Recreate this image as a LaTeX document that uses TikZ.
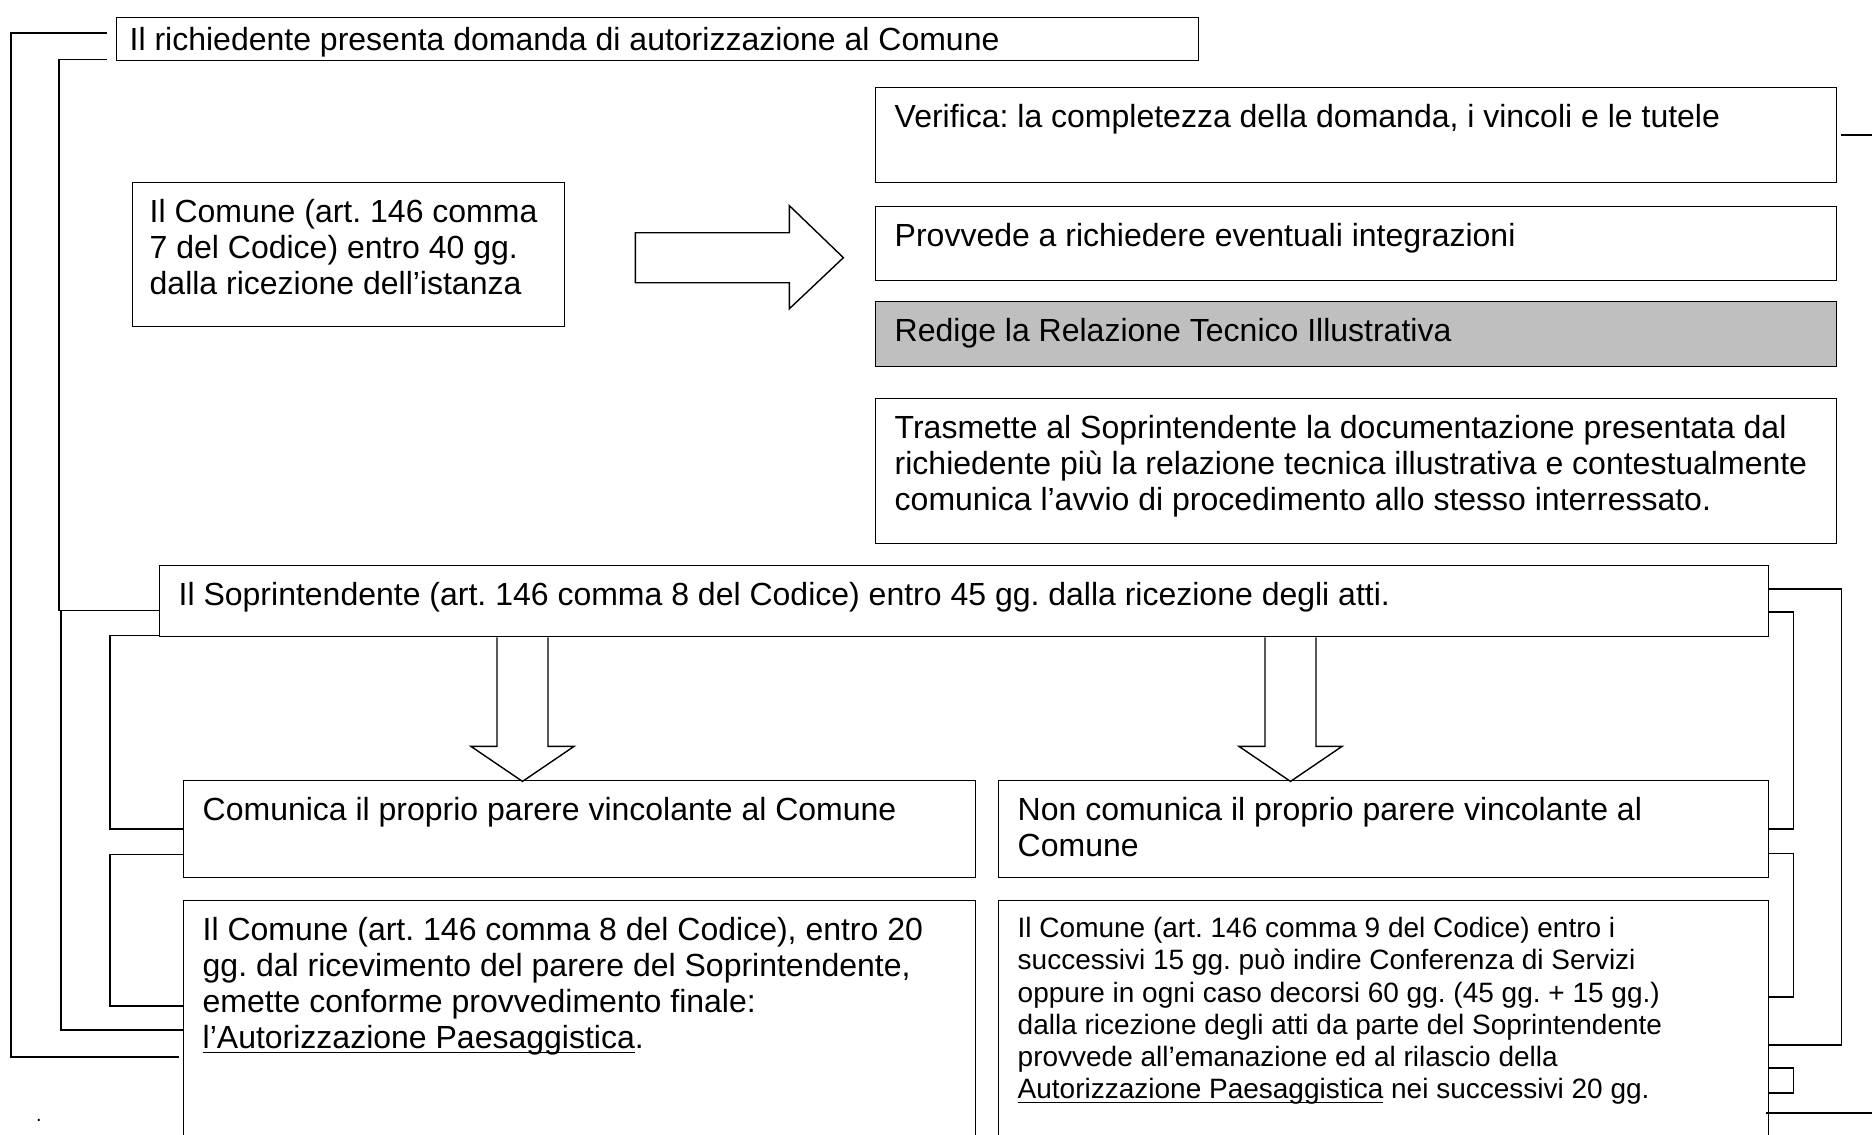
\documentclass[tikz,border=0pt]{standalone}
\usepackage{fontspec}
\setmainfont{Liberation Sans}
\usetikzlibrary{calc}

\newlength\padL
\setlength\padL{19pt}
% box content: [baseline of first line]{width}{height}{text}
\newcommand{\boxtext}[4][40pt]{\parbox[t][#3][t]{#2}{\raggedright\frenchspacing\leftskip=\padL\rightskip=-60pt plus 1fil\rule{0pt}{#1}#4}}
\newcommand{\sottolinea}[1]{\leavevmode\setbox0\hbox{#1}\rlap{\rule[-4.5pt]{\wd0}{1.6pt}}\box0\relax}

\begin{document}
\begin{tikzpicture}[x=1pt,y=-1pt,
  box/.style={draw, line width=1.4pt, anchor=north west, inner sep=0pt},
  link/.style={draw, line width=1.8pt},
  blockarr/.style={draw, line width=1.4pt, fill=white, line join=miter},
  font=\fontsize{32}{36}\selectfont]

\useasboundingbox (0,0) rectangle (1872,1135);
\begin{scope}
\clip (0,0) rectangle (1872,1135);

\node[box] (req) at (116,17) {\setlength\padL{13pt}\boxtext[33pt]{1082pt}{43pt}{Il richiedente presenta domanda di autorizzazione al Comune}};
\node[box] (comune) at (132,182) {\setlength\padL{17pt}\boxtext{432pt}{144pt}{Il Comune (art. 146 comma\\7 del Codice) entro 40 gg.\\dalla ricezione dell’istanza}};

\node[box] (verif) at (875,87) {\boxtext{961pt}{95pt}{Verifica: la completezza della domanda, i vincoli e le tutele}};
\node[box] (provv) at (875,206) {\boxtext{961pt}{74pt}{Provvede a richiedere eventuali integrazioni}};
\node[box, fill=black!25] (redige) at (875,301) {\boxtext{961pt}{65pt}{Redige la Relazione Tecnico Illustrativa}};
\node[box] (trasm) at (875,398) {\boxtext{961pt}{145pt}{Trasmette al Soprintendente la documentazione presentata dal\\richiedente più la relazione tecnica illustrativa e contestualmente\\comunica l’avvio di procedimento allo stesso interressato.}};

\node[box] (sopr) at (159,565) {\boxtext{1609pt}{71pt}{Il Soprintendente (art. 146 comma 8 del Codice) entro 45 gg. dalla ricezione degli atti.}};

\node[box] (comun) at (183,780) {\boxtext{792pt}{97pt}{Comunica il proprio parere vincolante al Comune}};
\node[box] (noncom) at (998,780) {\boxtext{770pt}{97pt}{Non comunica il proprio parere vincolante al\\Comune}};

\node[box] (esito) at (183,900) {\boxtext{792pt}{260pt}{Il Comune (art. 146 comma 8 del Codice), entro 20\\gg. dal ricevimento del parere del Soprintendente,\\emette conforme provvedimento finale:\\\sottolinea{l’Autorizzazione Paesaggistica}.}};
\node[box] (silenzio) at (998,900) {\fontsize{28}{32.2}\selectfont\boxtext[37pt]{770pt}{260pt}{Il Comune (art. 146 comma 9 del Codice) entro i\\successivi 15 gg. può indire Conferenza di Servizi\\oppure in ogni caso decorsi 60 gg. (45 gg. + 15 gg.)\\dalla ricezione degli atti da parte del Soprintendente\\provvede all’emanazione ed al rilascio della\\\sottolinea{Autorizzazione Paesaggistica} nei successivi 20 gg.}};

\node[inner sep=0pt, font=\fontsize{20}{20}\selectfont] (punto) at (39,1120) {.};

% block arrows
\draw[blockarr] ($(comune.east)+(70,-22)$) -- ++(154,0) -- ++(0,-27) -- ++(54,52) -- ++(-54,51) -- ++(0,-26) -- ++(-154,0) -- cycle;
\draw[blockarr] ($(sopr.south west)+(338,0)$) -- ++(0,109) -- ++(-26,0) -- ++(51.5,35) -- ++(51.5,-35) -- ++(-26,0) -- ++(0,-109);
\draw[blockarr] ($(sopr.south west)+(1106,0)$) -- ++(0,109) -- ++(-26,0) -- ++(51.5,35) -- ++(51.5,-35) -- ++(-26,0) -- ++(0,-109);

% left brackets
\draw[link] ($(req.north west)+(-9,16)$) -- ++(-96,0) |- ($(esito.north west)+(-4,157)$);
\draw[link] ($(req.south west)+(-9,-2)$) -- ++(-48,0) |- ($(sopr.south west)+(0,-27)$);
\draw[link] ($(sopr.south west)+(0,-27)$) -- ++(-98,0) |- ($(esito.north west)+(0,130)$);
\draw[link] ($(sopr.south west)+(0,-2)$) -- ++(-49,0) |- (comun.west);
\draw[link] ($(comun.south west)+(0,-24)$) -- ++(-73,0) |- ($(esito.north west)+(0,106)$);

% right brackets
\draw[link] ($(sopr.north east)+(0,24)$) -- ++(72,0) |- ($(silenzio.north east)+(0,145)$);
\draw[link] ($(sopr.north east)+(0,47)$) -- ++(24,0) |- (noncom.east);
\draw[link] ($(noncom.south east)+(0,-25)$) -- ++(24,0) |- ($(silenzio.north east)+(0,97)$);
\draw[link] ($(silenzio.north east)+(0,168)$) -- ++(24,0) |- ($(silenzio.north east)+(0,193)$);
\draw[link] ($(silenzio.north east)+(-3,213)$) -- ++(107,0);
\draw[link] ($(verif.east)+(4,0)$) -- ++(33,0);

\end{scope}
\end{tikzpicture}
\end{document}
